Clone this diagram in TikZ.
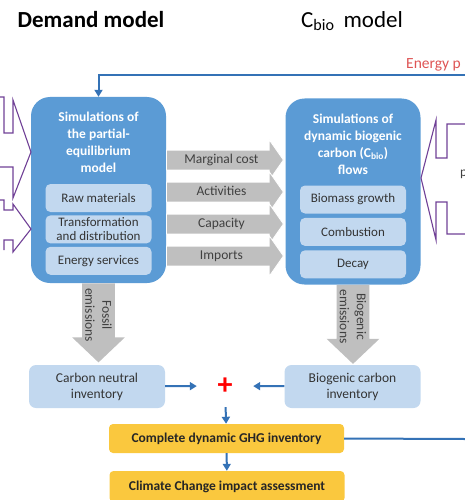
\documentclass[tikz,border=0pt]{standalone}
\usepackage{fontspec}
\setmainfont{Carlito}
\usetikzlibrary{arrows.meta,calc,positioning,shapes.arrows}
\definecolor{boxblue}{RGB}{91,155,213}
\definecolor{subblue}{RGB}{194,216,239}
\definecolor{flowgray}{RGB}{191,191,191}
\definecolor{linkblue}{RGB}{52,114,182}
\definecolor{resultyellow}{RGB}{250,200,62}
\definecolor{fragpurple}{RGB}{112,64,150}
\definecolor{pricered}{RGB}{222,84,84}
\newcommand{\bodyfont}{\fontsize{13.5}{16}\selectfont}
\tikzstyle{heading}=[
  font={\fontsize{23}{26}\selectfont},
  text=black,
  inner sep=0pt,
]
\tikzstyle{bigbox}=[
  fill=boxblue,
  rounded corners=19pt,
  minimum width=135pt,
  minimum height=186pt,
  inner sep=0pt,
]
\tikzstyle{boxtitle}=[
  font={\fontsize{13.5}{17}\selectfont\bfseries},
  text=white,
  align=center,
  inner sep=0pt,
]
\tikzstyle{subbox}=[
  fill=subblue,
  rounded corners=5pt,
  minimum width=106pt,
  minimum height=28pt,
  inner sep=0pt,
  align=center,
  font={\fontsize{13}{14}\selectfont},
  text=black!80,
]
\tikzstyle{flow}=[
  single arrow,
  anchor=tail,
  fill=flowgray,
  draw=white,
  line width=.8pt,
  minimum height=117pt,
  single arrow head extend=10.5pt,
  single arrow tip angle=110,
  text height=8pt,
  text depth=2pt,
  inner ysep=4.5pt,
  inner xsep=2pt,
  font=\bodyfont,
  text=black!75,
]
\tikzstyle{emission}=[
  single arrow,
  anchor=tail,
  rotate=-90,
  fill=flowgray,
  minimum height=79pt,
  single arrow head extend=10pt,
  single arrow tip angle=93,
  inner ysep=3pt,
  inner xsep=2pt,
  align=center,
  font={\fontsize{13.5}{17}\selectfont},
  text=black!75,
]
\tikzstyle{inventory}=[
  fill=subblue,
  rounded corners=7pt,
  minimum width=136pt,
  minimum height=43pt,
  inner sep=0pt,
  align=center,
  font=\bodyfont,
  text=black!80,
]
\tikzstyle{result}=[
  fill=resultyellow,
  rounded corners=4pt,
  minimum width=235pt,
  minimum height=29pt,
  inner sep=0pt,
  font={\fontsize{13.5}{16}\selectfont\bfseries},
  text=black!85,
]
\tikzstyle{link}=[
  draw=linkblue,
  line width=2pt,
]
\tikzstyle{frag}=[
  draw=fragpurple,
  line width=1.1pt,
]
\tikzset{
  >={Triangle[length=7pt,width=8pt]},
}
\begin{document}
\begin{tikzpicture}[x=1pt,y=-1pt]
  \useasboundingbox (0,0) rectangle (465,500);
  %% headings
  \node (demandhead) [heading, font={\fontsize{23}{26}\selectfont\bfseries}] at (91,20) {Demand model};
  \node (biohead) [heading] at (352,21) {C\textsubscript{bio}\, model};
  \node (price) [heading, anchor=west, font={\fontsize{15.5}{18}\selectfont}, text=pricered] at (406,65) {Energy p};
  %%
  \node (demand) [bigbox] at (98.5,190) {};
  \node (demandtitle) [boxtitle] at (98.5,142) {Simulations of\\the partial-\\equilibrium\\model};
  \node (raw) [subbox] at (98.5,198) {Raw materials};
  \node (transform) [subbox, below=3pt of raw] {Transformation\\and distribution};
  \node (services) [subbox, below=3pt of transform] {Energy services};
  %%
  \node (cbio) [bigbox] at (353,191.5) {};
  \node (cbiotitle) [boxtitle] at (353,144) {Simulations of\\dynamic biogenic\\carbon (C\textsubscript{bio})\\flows};
  \node (growth) [subbox] at (353,199.5) {Biomass growth};
  \node (combustion) [subbox, below=4pt of growth] {Combustion};
  \node (decay) [subbox, below=4pt of combustion] {Decay};
  %%
  \node (mcost) [flow] at (166,160) {Marginal cost};
  \node (activities) [flow] at (166,192) {Activities};
  \node (capacity) [flow] at (166,224) {Capacity};
  \node (imports) [flow] at (166,256) {Imports};
  %%
  \node (fossil) [emission] at (demand.south) {Fossil\\emissions};
  \node (biogenic) [emission] at (cbio.south) {Biogenic\\emissions};
  %%
  \node (neutral) [inventory] at (97,386.5) {Carbon neutral\\inventory};
  \node (biostock) [inventory] at (352.5,386.5) {Biogenic carbon\\inventory};
  \node (plus) [minimum width=56pt, minimum height=42pt, inner sep=0pt,
    font={\fontsize{30}{30}\selectfont\bfseries}, text=red] at (225,386) {+};
  \node (ghg) [result] at (226.5,438.5) {Complete dynamic GHG inventory};
  \node (impact) [result, minimum height=31pt] at (227,486.5) {Climate Change impact assessment};
  %%
  \coordinate (pricein) at (465,75);
  \coordinate (ghgout) at (465,439);
  \draw [->, link] (pricein) -| (demand);
  \draw [->, link] (neutral) -- (plus);
  \draw [->, link] (biostock) -- (plus);
  \draw [->, link] (plus) -- (ghg);
  \draw [->, link] (ghg) -- (impact);
  \draw [link] (ghg.east) -- (ghgout);
  %% cut-off inputs at the sides
  \draw [frag] (0,97) -- (4,97) -- (4,133) -- (13,133) -- (13,100)
    -- (31,152) -- (13,198) -- (13,167) -- (0,167);
  \draw [frag] (0,200) -- (4,200) -- (4,210) -- (13,210) -- (13,204)
    -- (31,229) -- (13,252) -- (13,240) -- (4,240) -- (4,250);
  \draw [frag] (465,124) -- (447,124) -- (447,158) -- (436,158) -- (436,120)
    -- (421,178) -- (436,240) -- (436,202) -- (447,202) -- (447,234) -- (465,234);
  \node (cutp) [anchor=west, inner sep=0pt, font=\bodyfont, text=black!75] at (460,174) {p};
\end{tikzpicture}
\end{document}
